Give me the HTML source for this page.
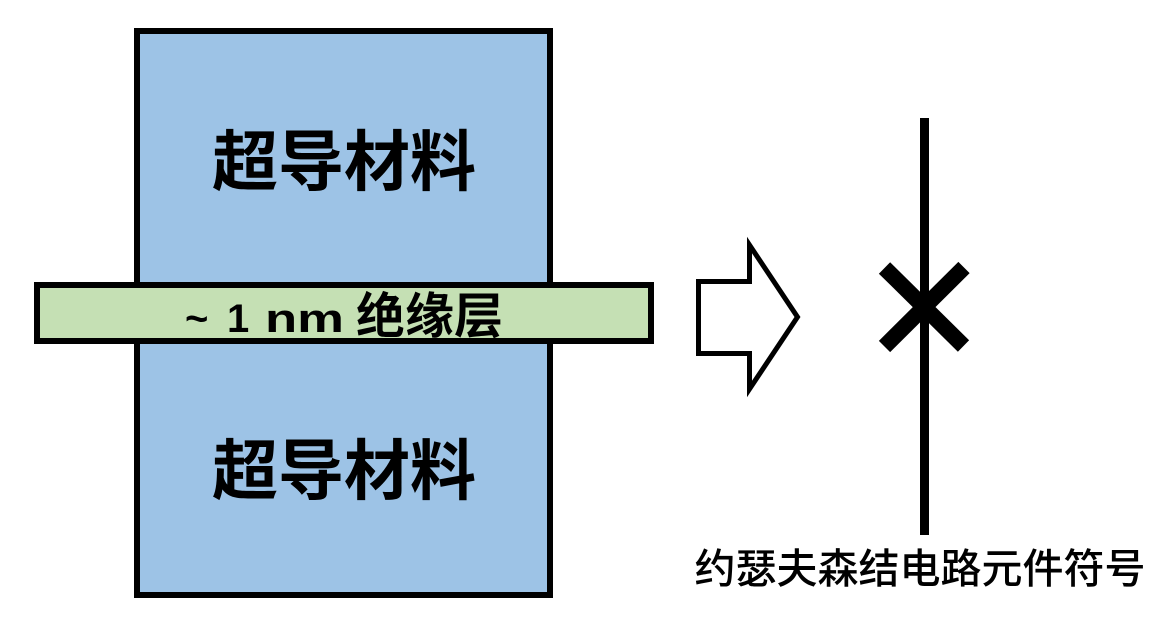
<!DOCTYPE html>
<html>
<head>
<meta charset="utf-8">
<style>
  html, body { margin: 0; padding: 0; background: #ffffff; }
  body { width: 1175px; height: 627px; overflow: hidden; position: relative; }
  svg { position: absolute; left: 0; top: 0; }
  text { font-family: "Liberation Sans", "Noto Sans CJK SC", sans-serif; fill: #000; }
</style>
</head>
<body>
<svg width="1175" height="627" viewBox="0 0 1175 627" xmlns="http://www.w3.org/2000/svg">
  <!-- Blue superconductor block -->
  <rect x="137" y="31" width="413" height="564" fill="#9DC3E6" stroke="#000" stroke-width="6"/>
  <!-- Green insulating layer -->
  <rect x="37" y="285" width="614" height="56" fill="#C5E0B4" stroke="#000" stroke-width="6"/>

  <!-- Labels in blocks -->
  <text x="344" y="185" font-size="66" font-weight="bold" text-anchor="middle">超导材料</text>
  <text x="344" y="494" font-size="66" font-weight="bold" text-anchor="middle">超导材料</text>

  <!-- Insulating layer label -->
  <text x="185" y="332" font-size="40" font-weight="bold">~</text>
  <text x="227" y="332" font-size="40" font-weight="bold">1</text>
  <text x="265" y="332" font-size="40" font-weight="bold" textLength="79" lengthAdjust="spacingAndGlyphs">nm</text>
  <text x="356" y="333" font-size="49" font-weight="bold">绝缘层</text>

  <!-- Hollow arrow -->
  <polygon points="698.5,281.5 749.5,281.5 749.5,245 797.5,317 749.5,389 749.5,353.5 698.5,353.5"
           fill="#fff" stroke="#000" stroke-width="5" stroke-linejoin="miter"/>

  <!-- Josephson junction symbol -->
  <rect x="920" y="118" width="9" height="417" fill="#000"/>
  <line x1="884.5" y1="268" x2="963.5" y2="346" stroke="#000" stroke-width="16"/>
  <line x1="964" y1="267.5" x2="884.5" y2="346.5" stroke="#000" stroke-width="16"/>

  <!-- Caption -->
  <text x="920" y="583" font-size="41" font-weight="500" text-anchor="middle">约瑟夫森结电路元件符号</text>
</svg>
</body>
</html>
